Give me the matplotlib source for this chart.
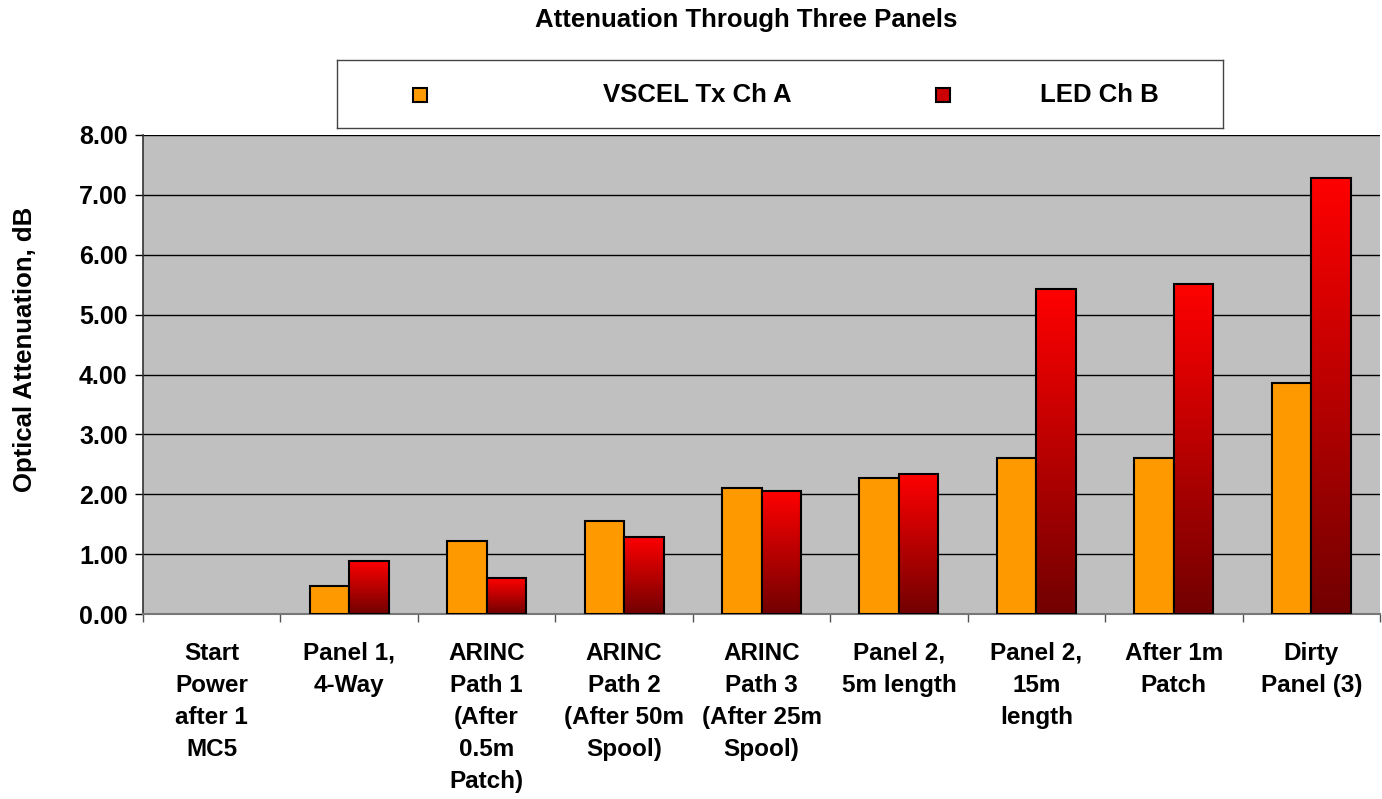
import numpy as np
import matplotlib
matplotlib.use('Agg')
import matplotlib.pyplot as plt
from matplotlib.patches import Rectangle

plt.rcParams['font.family'] = ['Liberation Sans', 'DejaVu Sans']
plt.rcParams['font.weight'] = 'bold'

# Datos
categories = [
    'Start\nPower\nafter 1\nMC5',
    'Panel 1,\n4-Way',
    'ARINC\nPath 1\n(After\n0.5m\nPatch)',
    'ARINC\nPath 2\n(After 50m\nSpool)',
    'ARINC\nPath 3\n(After 25m\nSpool)',
    'Panel 2,\n5m length',
    'Panel 2,\n15m\nlength',
    'After 1m\nPatch',
    'Dirty\nPanel (3)',
]
vscel = [0.00, 0.47, 1.22, 1.56, 2.10, 2.27, 2.60, 2.60, 3.85]
led = [0.00, 0.89, 0.60, 1.29, 2.05, 2.33, 5.42, 5.51, 7.29]
series_names = ['VSCEL Tx Ch A', 'LED Ch B']
yticks = np.arange(0, 8.01, 1.0)

orange = '#FF9900'
W, H = 1382, 799

fig = plt.figure(figsize=(W / 100, H / 100), dpi=100)
ax = fig.add_axes([143 / W, (H - 614) / H, (1380 - 143) / W, (614 - 135) / H])
ax.set_facecolor('#C0C0C0')

x = np.arange(len(categories))
bw = 0.2875

ax.bar(x - bw / 2, vscel, bw, color=orange, edgecolor='black',
       linewidth=[1.5 if v > 0 else 0 for v in vscel], zorder=3)
red_bars = ax.bar(x + bw / 2, led, bw, color='none', edgecolor='black',
                  linewidth=[1.5 if v > 0 else 0 for v in led], zorder=4)

# Degradado rojo en las barras LED
grad = np.linspace(0, 1, 256).reshape(-1, 1)
cmap = matplotlib.colors.LinearSegmentedColormap.from_list('redgrad', ['#720000', '#FF0000'])
for b, v in zip(red_bars, led):
    if v <= 0:
        continue
    x0 = b.get_x()
    im = ax.imshow(grad, cmap=cmap, aspect='auto', origin='lower',
                   extent=(x0, x0 + b.get_width(), 0, v), zorder=3.5)
    im.set_clip_path(b)

ax.set_xlim(-0.5, len(categories) - 0.5)
ax.set_ylim(0, 8)
ax.set_yticks(yticks)
ax.set_yticklabels([f'{v:.2f}' for v in yticks])
ax.yaxis.grid(True, color='black', linewidth=1.0, zorder=1)
ax.set_axisbelow(True)

ax.set_xticks(x)
ax.set_xticklabels(categories, fontsize=17.5, fontweight='bold', linespacing=1.5, va='top')
ax.set_xticks(np.arange(len(categories) + 1) - 0.5, minor=True)
ax.tick_params(axis='x', which='major', length=0, pad=20)
ax.tick_params(axis='x', which='minor', length=6, width=1, color='#555555')
ax.tick_params(axis='y', length=6, width=1, pad=5, labelsize=18)

for s in ['top', 'right']:
    ax.spines[s].set_visible(False)
ax.spines['left'].set_color('#333333')
ax.spines['bottom'].set_color('#777777')
ax.spines['left'].set_linewidth(1.2)
ax.spines['bottom'].set_linewidth(1.5)

ax.set_ylabel('Optical Attenuation, dB', fontsize=18.5, fontweight='bold')
ax.yaxis.set_label_coords((37 - 143) / 1237, (614 - 349) / 479)

fig.text(746 / W, 1 - 20 / H, 'Attenuation Through Three Panels',
         ha='center', va='center', fontsize=18.5, fontweight='bold')

# Leyenda
lax = fig.add_axes([337 / W, (H - 128) / H, (1223 - 337) / W, (128 - 60) / H])
lax.set_xlim(337, 1223)
lax.set_ylim(128, 60)
lax.set_xticks([])
lax.set_yticks([])
for s in lax.spines.values():
    s.set_color('#444444')
    s.set_linewidth(1.0)
lax.add_patch(Rectangle((413, 88), 14, 14, facecolor=orange, edgecolor='black', linewidth=1.5))
lax.add_patch(Rectangle((936, 88), 14, 14, facecolor='#CC0000', edgecolor='black', linewidth=1.5))
lax.text(697, 95, series_names[0], ha='center', va='center', fontsize=18.5, fontweight='bold')
lax.text(1099, 95, series_names[1], ha='center', va='center', fontsize=18.5, fontweight='bold')

plt.savefig('out.png', dpi=100)
